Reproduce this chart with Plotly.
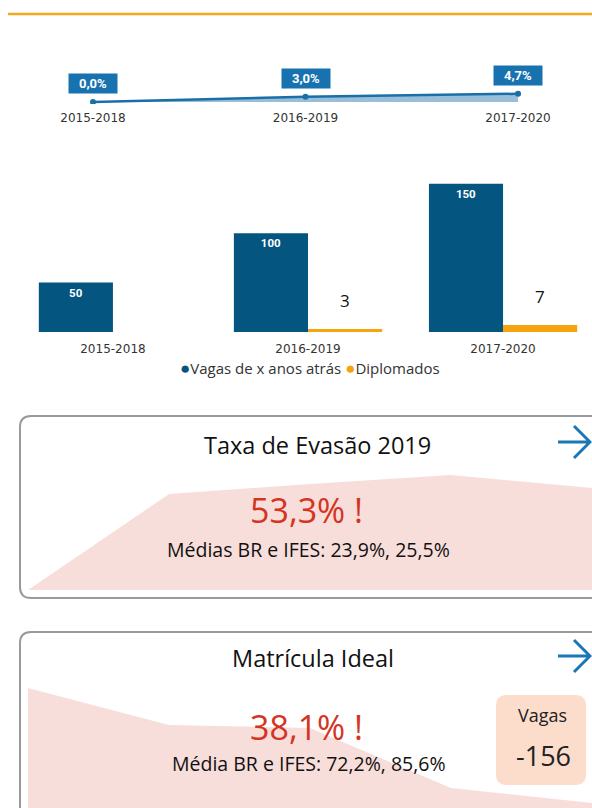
import plotly.graph_objects as go

W, H = 592, 808

periodos = ["2015-2018", "2016-2019", "2017-2020"]
taxa_sucesso = [0.0, 3.0, 4.7]
taxa_labels = ["0,0%", "3,0%", "4,7%"]
vagas = [50, 100, 150]
diplomados = [None, 3, 7]

evasao_hist = [0, 96, 106, 115, 102]
matricula_hist = [120, 83, 80, 20, 5]

BLUE_LINE = "#1a6fa9"
BLUE_BAR = "#04557f"
ORANGE = "#f5a30f"
PINK = "#f8dedb"
RED = "#d5341f"
FONT = "Open Sans"


def yp(py):
    return 1 - py / H


def xp(px):
    return px / W


def rounded_rect(x0, y0, x1, y1, r):
    # pixel box -> svg path in paper coordinates
    pts = [
        f"M {xp(x0 + r)} {yp(y0)}",
        f"L {xp(x1 - r)} {yp(y0)}",
        f"Q {xp(x1)} {yp(y0)} {xp(x1)} {yp(y0 + r)}",
        f"L {xp(x1)} {yp(y1 - r)}",
        f"Q {xp(x1)} {yp(y1)} {xp(x1 - r)} {yp(y1)}",
        f"L {xp(x0 + r)} {yp(y1)}",
        f"Q {xp(x0)} {yp(y1)} {xp(x0)} {yp(y1 - r)}",
        f"L {xp(x0)} {yp(y0 + r)}",
        f"Q {xp(x0)} {yp(y0)} {xp(x0 + r)} {yp(y0)}",
        "Z",
    ]
    return " ".join(pts)


fig = go.Figure()

# line chart (taxa)
fig.add_trace(go.Scatter(
    x=periodos, y=taxa_sucesso, mode="lines+markers",
    line=dict(color=BLUE_LINE, width=2.5),
    marker=dict(size=6, color=BLUE_LINE),
    fill="tozeroy", fillcolor="rgba(26,111,169,0.45)",
    xaxis="x", yaxis="y", showlegend=False, hoverinfo="skip",
))

# bar chart
fig.add_trace(go.Bar(
    x=periodos, y=vagas, name="Vagas de x anos atrás",
    marker=dict(color=BLUE_BAR, line=dict(width=0)),
    text=vagas, textposition="inside", insidetextanchor="end",
    textfont=dict(color="white", size=11.5, family="Roboto"),
    texttemplate="<b>%{text}</b>",
    xaxis="x2", yaxis="y2", showlegend=False,
))
fig.add_trace(go.Bar(
    x=periodos, y=diplomados, name="Diplomados",
    marker=dict(color=ORANGE, line=dict(width=0)),
    xaxis="x2", yaxis="y2", showlegend=False,
))

# sparkline areas inside the cards
fig.add_trace(go.Scatter(
    x=list(range(len(evasao_hist))), y=evasao_hist, mode="lines",
    line=dict(width=0, color=PINK), fill="tozeroy", fillcolor=PINK,
    xaxis="x3", yaxis="y3", showlegend=False, hoverinfo="skip",
))
fig.add_trace(go.Scatter(
    x=list(range(len(matricula_hist))), y=matricula_hist, mode="lines",
    line=dict(width=0, color=PINK), fill="tozeroy", fillcolor=PINK,
    xaxis="x4", yaxis="y4", showlegend=False, hoverinfo="skip",
))

bargap = 0.24
annotations = []

for i, (v, t) in enumerate(zip(taxa_sucesso, taxa_labels)):
    annotations.append(dict(
        x=periodos[i], y=v, xref="x", yref="y", text=f"<b>{t}</b>",
        showarrow=False, yshift=18, bgcolor="#1872b0", borderpad=2,
        width=44, height=15, xanchor="center", yanchor="middle",
        font=dict(color="white", size=13, family="Roboto"),
    ))

off = (1 - bargap) / 4
for i, d in enumerate(diplomados):
    if d is None:
        continue
    annotations.append(dict(
        x=i + off, y=d, xref="x2", yref="y2", text=str(d),
        showarrow=False, yshift=29, xanchor="center", yanchor="middle",
        font=dict(color="#111", size=17, family=FONT),
    ))

annotations.append(dict(
    x=xp(310), y=yp(368), xref="paper", yref="paper",
    text=(f"<span style='color:{BLUE_BAR};font-size:17px'>●</span>Vagas de x anos atrás "
          f"<span style='color:{ORANGE};font-size:17px'>●</span>Diplomados"),
    showarrow=False, xanchor="center", yanchor="middle",
    font=dict(color="#333", size=15, family=FONT),
))

card_texts = [
    ("Taxa de Evasão 2019", 317, 445, 23.5, "#111"),
    ("53,3% !", 306, 510, 34, RED),
    ("Médias BR e IFES: 23,9%, 25,5%", 308, 549, 19.5, "#111"),
    ("Matrícula Ideal", 313, 658, 23.5, "#111"),
    ("38,1% !", 306, 727, 34, RED),
    ("Média BR e IFES: 72,2%, 85,6%", 309, 763, 19.5, "#111"),
    ("Vagas", 542, 715, 18, "#222"),
    ("-156", 543, 755, 27, "#222"),
]
for txt, x, y, s, c in card_texts:
    annotations.append(dict(
        x=xp(x), y=yp(y), xref="paper", yref="paper", text=txt,
        showarrow=False, xanchor="center", yanchor="middle",
        font=dict(color=c, size=s, family=FONT),
    ))

shapes = [
    dict(type="line", xref="paper", yref="paper",
         x0=xp(8), x1=1, y0=yp(14), y1=yp(14),
         line=dict(color="#f2a91e", width=2.5)),
    dict(type="path", xref="paper", yref="paper",
         path=rounded_rect(20, 416, 612, 598, 11),
         line=dict(color="#9a9a9a", width=2), layer="above"),
    dict(type="path", xref="paper", yref="paper",
         path=rounded_rect(20, 632, 612, 830, 11),
         line=dict(color="#9a9a9a", width=2), layer="above"),
    dict(type="path", xref="paper", yref="paper",
         path=rounded_rect(496, 695, 586, 785, 11),
         fillcolor="#fcdccb", line=dict(width=0), layer="below"),
]
for cy in (442, 656):
    shapes.append(dict(type="path", xref="paper", yref="paper",
                       path=(f"M {xp(558)} {yp(cy)} L {xp(590)} {yp(cy)} "
                             f"M {xp(574)} {yp(cy - 16)} L {xp(590)} {yp(cy)} "
                             f"L {xp(574)} {yp(cy + 16)}"),
                       line=dict(color="#1b76b6", width=3)))

hidden = dict(showgrid=False, zeroline=False, showticklabels=False,
              showline=False, fixedrange=True)
tickfont = dict(size=12, color="#333", family="DejaVu Sans")

fig.update_layout(
    width=W, height=H,
    margin=dict(l=0, r=0, t=0, b=0),
    paper_bgcolor="white", plot_bgcolor="rgba(0,0,0,0)",
    font=dict(family=FONT),
    barmode="group", bargap=bargap, bargroupgap=0,
    xaxis=dict(domain=[0, 1], type="category", range=[-0.4376, 2.348],
               showgrid=False, zeroline=False, showline=False,
               ticks="outside", ticklen=3, tickcolor="rgba(0,0,0,0)",
               tickfont=tickfont, anchor="y"),
    yaxis=dict(domain=[yp(104), yp(60)], range=[-1.2, 24.1], anchor="x", **hidden),
    xaxis2=dict(domain=[0, 1], type="category", range=[-0.579, 2.456],
                showgrid=False, zeroline=False, showline=False,
                ticks="outside", ticklen=6, tickcolor="rgba(0,0,0,0)",
                tickfont=tickfont, anchor="y2"),
    yaxis2=dict(domain=[yp(332), yp(170)], range=[0, 164], anchor="x2", **hidden),
    xaxis3=dict(domain=[xp(28), xp(592)], range=[0, 4], anchor="y3", **hidden),
    yaxis3=dict(domain=[yp(590), yp(470)], range=[0, 120], anchor="x3", **hidden),
    xaxis4=dict(domain=[xp(28), xp(592)], range=[0, 4], anchor="y4", **hidden),
    yaxis4=dict(domain=[0, yp(688)], range=[0, 120], anchor="x4", **hidden),
    annotations=annotations,
    shapes=shapes,
)

# the page's default body margin would push the figure off the window
fig.write_html("out.html", config={"displayModeBar": False},
               post_script="document.body.style.margin='0';")
